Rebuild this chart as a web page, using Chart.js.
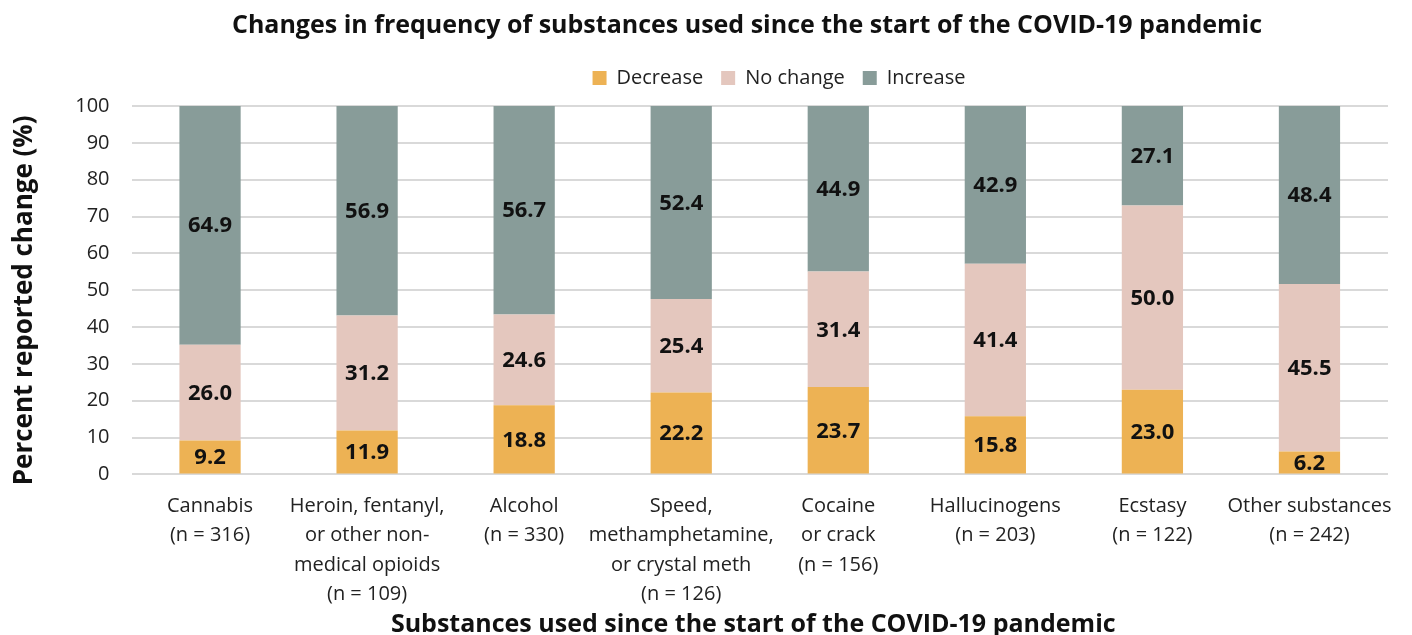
<!DOCTYPE html>
<html>
<head>
<meta charset="utf-8">
<script src="https://cdn.jsdelivr.net/npm/chart.js@4"></script>
<style>
  html, body { margin: 0; padding: 0; background: #fff; }
  #wrap { width: 1412px; height: 635px; }
</style>
</head>
<body>
<div id="wrap"><canvas id="chart"></canvas></div>
<script>
// Substances (x axis categories, split into lines)
const substances = [
  ['Cannabis', '(n = 316)'],
  ['Heroin, fentanyl,', 'or other non-', 'medical opioids', '(n = 109)'],
  ['Alcohol', '(n = 330)'],
  ['Speed,', 'methamphetamine,', 'or crystal meth', '(n = 126)'],
  ['Cocaine', 'or crack', '(n = 156)'],
  ['Hallucinogens', '(n = 203)'],
  ['Ecstasy', '(n = 122)'],
  ['Other substances', '(n = 242)']
];

// Percent reported change per substance
const decrease = [9.2, 11.9, 18.8, 22.2, 23.7, 15.8, 23.0, 6.2];
const noChange = [26.0, 31.2, 24.6, 25.4, 31.4, 41.4, 50.0, 45.5];
const increase = [64.9, 56.9, 56.7, 52.4, 44.9, 42.9, 27.1, 48.4];

const yTicks = [0, 10, 20, 30, 40, 50, 60, 70, 80, 90, 100];

const fontFamily = '"Open Sans", Lato, sans-serif';

// Draw the value in the middle of every bar segment
const segmentLabels = {
  id: 'segmentLabels',
  afterDatasetsDraw(chart) {
    const ctx = chart.ctx;
    ctx.save();
    ctx.font = 'bold 22px ' + fontFamily;
    ctx.fillStyle = '#111';
    ctx.textAlign = 'center';
    ctx.textBaseline = 'middle';
    chart.data.datasets.forEach((ds, i) => {
      const meta = chart.getDatasetMeta(i);
      meta.data.forEach((bar, j) => {
        const y = (bar.y + bar.base) / 2;
        ctx.fillText(ds.data[j].toFixed(1), bar.x, y + 1);
      });
    });
    ctx.restore();
  }
};

// Title and legend sit right of the canvas centre in the original,
// and the legend leaves a little more room above the plot
const headerTweaks = {
  id: 'headerTweaks',
  beforeLayout(chart) {
    const legend = chart.legend;
    if (legend && !legend._padded) {
      const fit = legend.fit;
      legend.fit = function () {
        fit.call(this);
        this.height += 8;
      };
      legend._padded = true;
    }
  },
  afterLayout(chart) {
    chart.legend.left += 83;
    chart.legend.right += 83;
    chart.titleBlock.left += 51;
    chart.titleBlock.right += 51;
  }
};

new Chart(document.getElementById('chart'), {
  type: 'bar',
  data: {
    labels: substances,
    datasets: [
      { label: 'Decrease', data: decrease, backgroundColor: '#EDB254' },
      { label: 'No change', data: noChange, backgroundColor: '#E4C7BE' },
      { label: 'Increase', data: increase, backgroundColor: '#889C99' }
    ]
  },
  options: {
    responsive: true,
    maintainAspectRatio: false,
    animation: false,
    layout: { padding: { top: 10, right: 24, left: 4, bottom: 0 } },
    datasets: {
      bar: { barPercentage: 0.39, categoryPercentage: 1 }
    },
    plugins: {
      title: {
        display: true,
        text: 'Changes in frequency of substances used since the start of the COVID-19 pandemic',
        color: '#111',
        font: { family: fontFamily, size: 25, weight: 'bold' },
        padding: { top: 1, bottom: 9 }
      },
      legend: {
        position: 'top',
        labels: {
          color: '#222',
          boxWidth: 14,
          boxHeight: 14,
          padding: 18,
          font: { family: fontFamily, size: 20 }
        }
      },
      tooltip: { enabled: false }
    },
    scales: {
      x: {
        stacked: true,
        grid: { display: false },
        border: { display: false },
        ticks: {
          color: '#222',
          maxRotation: 0,
          autoSkip: false,
          padding: 9,
          font: { family: fontFamily, size: 20, lineHeight: 1.47 }
        },
        title: {
          display: true,
          text: 'Substances used since the start of the COVID-19 pandemic\u00A0\u00A0',
          color: '#111',
          font: { family: fontFamily, size: 25, weight: 'bold' },
          padding: { top: -8, bottom: -5 }
        }
      },
      y: {
        stacked: true,
        min: 0,
        max: 100,
        afterBuildTicks(axis) {
          axis.ticks = yTicks.map(v => ({ value: v }));
        },
        grid: { color: '#D9D9D9', lineWidth: 2, drawTicks: false },
        border: { display: false },
        ticks: {
          color: '#222',
          padding: 22,
          font: { family: fontFamily, size: 20 }
        },
        title: {
          display: true,
          text: 'Percent reported change (%)\u00A0\u00A0\u00A0',
          color: '#111',
          font: { family: fontFamily, size: 26, weight: 'bold' },
          padding: { top: 5, bottom: 13 }
        }
      }
    }
  },
  plugins: [segmentLabels, headerTweaks]
});
</script>
</body>
</html>
